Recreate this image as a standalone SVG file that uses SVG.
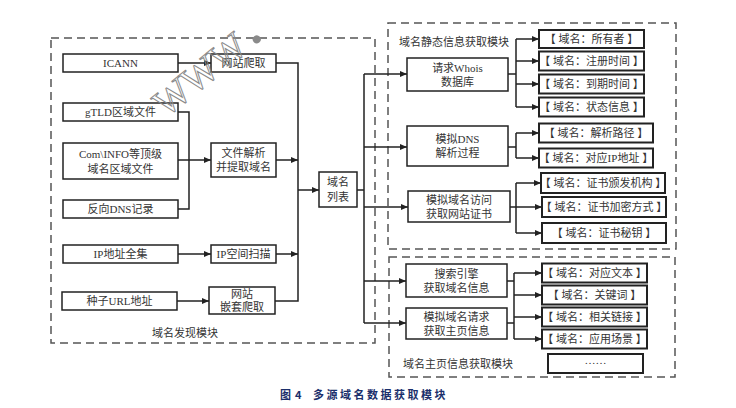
<svg xmlns="http://www.w3.org/2000/svg" width="736" height="408" viewBox="0 0 736 408">
<defs>
<style>
.b{fill:#fff;stroke:#222;stroke-width:1.5}
.o{fill:#fff;stroke:#222;stroke-width:2}
.d{fill:none;stroke:#555;stroke-width:1.5;stroke-dasharray:8 5}
.c{fill:none;stroke:#222;stroke-width:1.5}
.a{fill:none;stroke:#222;stroke-width:1.5;marker-end:url(#ah)}
.t{font-family:"Liberation Serif","Noto Sans CJK SC",serif;font-size:11px;fill:#333;text-anchor:middle}
.l{font-family:"Liberation Serif","Noto Sans CJK SC",serif;font-size:11px;fill:#333}
.cap{font-family:"Noto Sans CJK SC",sans-serif;font-size:11px;font-weight:bold;fill:#1b2f6b}
</style>
<marker id="ah" markerWidth="7" markerHeight="6" refX="7" refY="3" orient="auto" markerUnits="userSpaceOnUse">
<path d="M0,0 L7,3 L0,6 z" fill="#222"/>
</marker>
</defs>
<rect width="736" height="408" fill="#fff"/>

<g id="modules">
<rect class="d" x="51" y="38" width="324" height="305"/>
<text class="t" x="185" y="337">域名发现模块</text>
<rect class="d" x="388" y="23" width="288" height="226"/>
<text class="l" x="399" y="46">域名静态信息获取模块</text>
<rect class="d" x="389" y="257" width="286" height="120"/>
<text class="l" x="403" y="368">域名主页信息获取模块</text>
</g>

<g id="connectors">
<path class="a" d="M178,63 H211"/>
<path class="c" d="M276,63 H298 V301 H275"/>
<path class="a" d="M276,160 H298"/>
<path class="a" d="M276,254 H298"/>
<path class="a" d="M298,190 H319"/>
<path class="c" d="M178,112 H189 V209 H178"/>
<path class="a" d="M178,160 H211"/>
<path class="a" d="M178,254 H211"/>
<path class="a" d="M177,301 H209"/>
<path class="c" d="M357,190 H364 M364,74 V323"/>
<path class="a" d="M364,74 H407"/>
<path class="a" d="M364,147 H407"/>
<path class="a" d="M364,207 H408"/>
<path class="a" d="M364,281 H406"/>
<path class="a" d="M364,323 H406"/>
<path class="c" d="M508,74 H516 M516,39 V107"/>
<path class="a" d="M516,39 H539"/>
<path class="a" d="M516,61 H539"/>
<path class="a" d="M516,84 H539"/>
<path class="a" d="M516,107 H539"/>
<path class="c" d="M508,147 H516 M516,133 V158"/>
<path class="a" d="M516,133 H539"/>
<path class="a" d="M516,158 H539"/>
<path class="c" d="M510,207 H516 M516,183 V233"/>
<path class="a" d="M516,183 H541"/>
<path class="a" d="M516,207 H542"/>
<path class="a" d="M516,233 H542"/>
<path class="c" d="M507,281 H514 M507,323 H514 M514,273 V339"/>
<path class="a" d="M514,273 H542"/>
<path class="a" d="M514,295 H542"/>
<path class="a" d="M514,317 H542"/>
<path class="a" d="M514,339 H542"/>
</g>

<g id="icann"><rect class="b" x="63" y="54" width="115" height="18"/><text class="t" x="120.5" y="67">ICANN</text></g>
<g id="crawl"><rect class="b" x="211" y="54" width="65" height="18"/><text class="t" x="243.5" y="67">网站爬取</text></g>
<g id="gtld"><rect class="b" x="63" y="103" width="115" height="18"/><text class="t" x="120.5" y="116">gTLD区域文件</text></g>
<g id="cominfo"><rect class="b" x="63" y="143" width="115" height="36"/><text class="t" x="120.5" y="158">Com\INFO等顶级</text><text class="t" x="120.5" y="173">域名区域文件</text></g>
<g id="parse"><rect class="b" x="211" y="143" width="65" height="34"/><text class="t" x="243.5" y="157">文件解析</text><text class="t" x="243.5" y="171">并提取域名</text></g>
<g id="rdns"><rect class="b" x="63" y="200" width="115" height="18"/><text class="t" x="120.5" y="213">反向DNS记录</text></g>
<g id="ipall"><rect class="b" x="63" y="245" width="115" height="18"/><text class="t" x="120.5" y="258">IP地址全集</text></g>
<g id="ipscan"><rect class="b" x="211" y="245" width="65" height="18"/><text class="t" x="243.5" y="258">IP空间扫描</text></g>
<g id="seed"><rect class="b" x="62" y="292" width="115" height="18"/><text class="t" x="119.5" y="305">种子URL地址</text></g>
<g id="nested"><rect class="b" x="209" y="287" width="66" height="27"/><text class="t" x="242" y="298">网站</text><text class="t" x="242" y="311">嵌套爬取</text></g>
<g id="domainlist"><rect class="b" x="319" y="172" width="38" height="35"/><text class="t" x="338" y="186">域名</text><text class="t" x="338" y="201">列表</text></g>

<g id="whois"><rect class="b" x="407" y="58" width="101" height="33"/><text class="t" x="457.5" y="72">请求Whois</text><text class="t" x="457.5" y="86">数据库</text></g>
<g id="o1"><rect class="o" x="539" y="30" width="105" height="18"/><text class="t" x="591.5" y="43">【 域名：所有者 】</text></g>
<g id="o2"><rect class="o" x="539" y="51.5" width="105" height="19"/><text class="t" x="591.5" y="65">【 域名：注册时间 】</text></g>
<g id="o3"><rect class="o" x="539" y="74.5" width="105" height="19"/><text class="t" x="591.5" y="88">【 域名：到期时间 】</text></g>
<g id="o4"><rect class="o" x="539" y="97.5" width="105" height="19"/><text class="t" x="591.5" y="111">【 域名：状态信息 】</text></g>

<g id="dns"><rect class="b" x="407" y="126" width="101" height="40"/><text class="t" x="457.5" y="143">模拟DNS</text><text class="t" x="457.5" y="157">解析过程</text></g>
<g id="o5"><rect class="o" x="539" y="123.5" width="114" height="19"/><text class="t" x="596" y="137">【 域名：解析路径 】</text></g>
<g id="o6"><rect class="o" x="539" y="148.5" width="114" height="19"/><text class="t" x="596" y="162">【 域名：对应IP地址 】</text></g>

<g id="cert"><rect class="b" x="408" y="191" width="102" height="31"/><text class="t" x="459" y="204">模拟域名访问</text><text class="t" x="459" y="218">获取网站证书</text></g>
<g id="o7"><rect class="o" x="541" y="173" width="124" height="20"/><text class="t" x="603" y="187">【 域名：证书颁发机构 】</text></g>
<g id="o8"><rect class="o" x="542" y="197" width="124" height="20"/><text class="t" x="604" y="211">【 域名：证书加密方式 】</text></g>
<g id="o9"><rect class="o" x="542" y="223" width="124" height="20"/><text class="t" x="604" y="237">【 域名：证书秘钥 】</text></g>

<g id="search"><rect class="b" x="406" y="264" width="101" height="33"/><text class="t" x="456.5" y="278">搜索引擎</text><text class="t" x="456.5" y="292">获取域名信息</text></g>
<g id="homepage"><rect class="b" x="406" y="308" width="101" height="31"/><text class="t" x="456.5" y="321">模拟域名请求</text><text class="t" x="456.5" y="335">获取主页信息</text></g>
<g id="o10"><rect class="o" x="542" y="263.5" width="105" height="19"/><text class="t" x="594.5" y="277">【 域名：对应文本 】</text></g>
<g id="o11"><rect class="o" x="542" y="285.5" width="105" height="19"/><text class="t" x="594.5" y="299">【 域名：关键词 】</text></g>
<g id="o12"><rect class="o" x="542" y="307.5" width="105" height="19"/><text class="t" x="594.5" y="321">【 域名：相关链接 】</text></g>
<g id="o13"><rect class="o" x="542" y="329.5" width="105" height="19"/><text class="t" x="594.5" y="343">【 域名：应用场景 】</text></g>
<g id="more"><rect class="o" x="548" y="354" width="95" height="19"/><text class="t" x="595.5" y="364">……</text></g>

<g id="caption">
<text class="cap" x="280" y="399">图</text>
<text class="cap" x="295" y="399" font-family="Liberation Sans">4</text>
<text class="cap" x="313" y="399" letter-spacing="2.5">多源域名数据获取模块</text>
</g>

<g id="watermark" transform="translate(166,118) rotate(-39)">
<text x="0" y="0" font-family="Liberation Serif" font-size="38" fill="none" stroke="#8a8a8a" stroke-width="1">WWW</text>
<circle cx="120" cy="-4" r="4" fill="#8a8a8a"/>
</g>
</svg>
